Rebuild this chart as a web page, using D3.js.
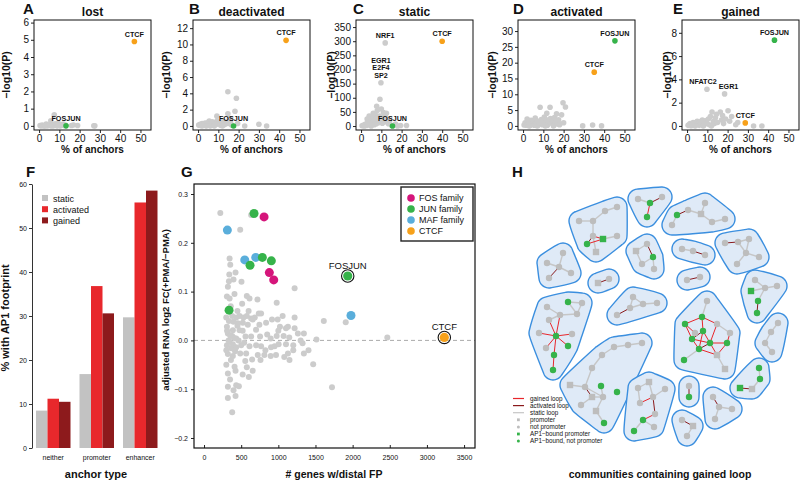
<!DOCTYPE html>
<html><head><meta charset="utf-8">
<script src="https://cdn.jsdelivr.net/npm/d3@7"></script>
<style>
body{margin:0;background:#fff}
svg{display:block}
text{font-family:"Liberation Sans",Arial,Helvetica,sans-serif;fill:#111}
</style>
</head><body><svg id="c" width="800" height="481"></svg>
<script>
// ================= DATA =================
// Top row (A-E): % of anchors vs -log10(P)
const topTitles = ["lost","deactivated","static","activated","gained"];
const topLetters = ["A","B","C","D","E"];
const topXTicks = [0,10,20,30,40,50];

const lostGray = [[0.5,0.02],[1,0],[1.5,0.05],[2,0.01],[2.5,0],[3,0.03],[3.5,0.1],[4,0],[4.5,0.04],[5,0.02],[5.5,0.08],[5.8,0.3],[6.5,0.05],[7,0],[7.5,0.64],[8,0.12],[8.5,0.02],[9,0.06],[9.5,0.15],[10,0.03],[10.5,0],[11,0.08],[11.5,0.05],[12,0.1],[12.5,0.02],[13,0.05],[16,0.02],[17,0.05],[19,0.02],[27,0.01],[27.5,0],[3,0],[6,0],[9,0]];
const lostHits = [[["CTCF"],47,4.9,"CTCF"],[["FOSJUN"],13.3,0,"FOSJUN"]];
const lostYTicks = [0,1,2,3,4,5,6];

const deactGray = [[0.3,0.1],[1,0.2],[1.5,0.05],[2,0.3],[2.5,0.1],[3,0.15],[3.5,0.35],[4,0.05],[4.5,0.2],[5,0.4],[5.5,0.6],[6,0.25],[6.5,0.1],[7,0.5],[7.5,0.3],[8,0.15],[8.5,0.45],[9,0.2],[9.3,1.2],[9.5,0.6],[10.5,0.35],[11,0.1],[11.5,0.4],[12,0.25],[12.5,0.6],[13,0.15],[13.5,0.5],[14.7,1.5],[14.5,0.3],[14.7,4.2],[15.5,0.9],[16,0.4],[18.2,1.8],[18.9,3.4],[19.5,0.3],[23,0],[30,0.2],[33.8,0],[2,0],[4,0],[6,0],[8,0],[12,0],[16.5,0.1]];
const deactHits = [[["CTCF"],43.4,10.5,"CTCF"],[["FOSJUN"],17.5,0,"FOSJUN"]];
const deactYTicks = [0,2,4,6,8,10,12];

const staticGray = [[0.5,1],[1,3],[1.5,0],[2,6],[2.5,2],[3,10],[3,25],[3.5,4],[4,14],[4,35],[4.5,7],[5,22],[5,0],[5.5,12],[6,30],[6,45],[6.5,5],[7,18],[7,40],[7.5,8],[7.7,70],[8,28],[8,55],[8.5,12],[9,35],[9.3,95],[9.5,20],[10,60],[10.5,10],[11,48],[11,30],[11.9,39],[12,15],[12.5,45],[13,25],[13.2,21],[13.5,8],[14,18],[15,3],[17,7],[18,0],[19.5,2],[22.4,2]];
const staticHits = [[["NRF1"],11.9,294,"other"],[["EGR1","E2F4","SP2"],9.8,153,"other"],[["CTCF"],40,300,"CTCF"],[["FOSJUN"],15.5,0,"FOSJUN"]];
const staticYTicks = [0,50,100,150,200,250,300,350];

const actGray = [[0.5,0.3],[1,1],[1.5,0.2],[2,2.2],[2.5,0.5],[3,1.2],[3.5,0.1],[4,1.8],[4.5,0.6],[5,1.4],[5.5,0.2],[6,2.5],[6.5,0.8],[7,1.5],[7.5,0.3],[8.4,5.9],[8.5,1.0],[9,2.0],[9.5,0.4],[10,1.3],[10.5,2.8],[11,0.7],[11.5,1.9],[11.7,4.0],[12,0.2],[12.5,1.1],[13.3,5.9],[13.5,2.3],[14,0.9],[14.5,1.6],[15,0.3],[15.5,2.6],[16,1.2],[16.5,3.8],[17,0.6],[17.5,1.9],[18,0.4],[19.7,7.3],[20.9,6.0],[19,3.5],[20,1.0],[29.4,0],[34.3,0.3],[38.7,0],[3,0],[7,0],[11,0],[15,0]];
const actHits = [[["FOSJUN"],45.3,26.9,"FOSJUN"],[["CTCF"],35.1,17.0,"CTCF"]];
const actYTicks = [0,5,10,15,20,25,30];

const gainGray = [[0.5,0.05],[1,0.1],[1.5,0.2],[2,0.02],[2.5,0.15],[3,0.3],[3.5,0.05],[4,0.25],[4.5,0.1],[5,0.4],[5.5,0.2],[6,0.05],[6.5,0.35],[7,0.15],[7.5,0.5],[8,0.2],[8.5,0.1],[9,0.45],[9.5,0.3],[10.5,0.6],[11,0.1],[11.5,0.8],[12.3,1.2],[13,0.4],[13.5,0.2],[14,0.7],[14.5,1.0],[15,0.3],[16.4,1.2],[17,0.5],[17.5,0.9],[18,0.2],[19,0.6],[20.2,1.3],[21,0.4],[22,0.8],[24,0.1],[25,0.3],[32.8,0],[36.9,0],[4,0],[8,0],[12,0]];
const gainHits = [[["FOSJUN"],43.1,7.37,"FOSJUN"],[["NFATC2"],9.8,3.15,"other"],[["EGR1"],18.5,2.75,"other"],[["CTCF"],28.7,0.26,"CTCF"]];
const gainYTicks = [0,2,4,6,8];

// Panel F: % with AP1 footprint by anchor type
const fCategories = ["neither","promoter","enhancer"];
const fSeries = ["static","activated","gained"];
const fStatic = [8.5,16.8,29.7];
const fActivated = [11.2,36.8,55.8];
const fGained = [10.5,30.6,58.5];
const fYTicks = [0,10,20,30,40,50,60];

// Panel G: # genes w/distal FP vs adjusted RNA log2 FC
const gXTicks = [0,500,1000,1500,2000,2500,3000,3500];
const gYTicks = [-0.2,-0.1,0.0,0.1,0.2,0.3];
const gLegend = ["FOS family","JUN family","MAF family","CTCF"];
const gFOS = [[808,0.253],[879,0.139],[938,0.124]];
const gJUN = [[673,0.260],[785,0.170],[906,0.163],[619,0.154],[337,0.062]];
const gMAF = [[314,0.226],[548,0.165],[696,0.170],[1978,0.051]];
const gHighlight = [["FOSJUN",1934,0.132,"JUN family"],["CTCF",3234,0.006,"CTCF"]];
const gGray = [
[219,0.261],[487,0.227],[634,0.257],
[344,0.168],[353,0.155],[424,0.139],[335,0.121],[397,0.125],[504,0.120],[321,0.110],[1219,0.107],
[308,0.090],[344,0.086],[576,0.091],[612,0.086],[719,0.084],[978,0.077],[513,0.075],
[379,0.050],[433,0.047],[478,0.050],[531,0.047],[576,0.050],[634,0.045],[683,0.047],[737,0.055],[768,0.055],
[299,0.047],[335,0.040],[397,0.038],[455,0.035],[522,0.036],[589,0.032],[656,0.043],[745,0.032],[835,0.036],[915,0.043],[991,0.043],[1058,0.050],[1129,0.028],[1219,0.047],[1022,0.028],[1103,0.025],[1219,0.025],[1612,0.040],
[1344,0.014],[1263,0.014],[1147,0.006],[1071,0.009],[978,0.009],[897,0.004],[754,0.008],[634,0.008],[558,0.008],[478,0.021],[388,0.021],[308,0.028],[321,0.014],[379,0.009],[433,0.004],
[344,-0.003],[388,-0.008],[308,-0.010],[366,-0.016],[433,-0.014],[500,-0.010],[612,-0.012],[701,-0.010],[768,-0.012],[826,-0.020],[902,-0.014],[1004,-0.008],[1103,-0.008],[1201,-0.010],[1326,-0.006],[1513,0.002],[1406,-0.020],[1344,-0.027],[1201,-0.020],[1129,-0.027],[1080,-0.034],[969,-0.030],[897,-0.032],[812,-0.030],[723,-0.030],[647,-0.039],[567,-0.027],[487,-0.027],[388,-0.032],[321,-0.028],
[411,-0.054],[576,-0.055],[321,-0.068],[424,-0.062],[603,-0.075],[1469,-0.049],[1722,-0.096],[321,-0.095],[433,-0.092],[469,-0.094],[397,-0.102],[321,-0.118],[424,-0.114],[379,-0.147],
[1907,0.037],[2467,0.006],
[330,0.000],[352,0.010],[362,-0.040],[300,-0.020],[405,0.005],[418,-0.022],[450,0.030],[465,0.000],[520,0.020],[540,-0.005],[555,-0.042],[600,0.060],[655,-0.062],[700,0.022],[760,-0.040],[850,0.012],[950,-0.012],[1000,0.020],[1150,-0.040],[1300,0.000],[360,0.070],[410,0.095],[450,0.060],[340,0.135],[310,0.020],[300,-0.050],[350,-0.080],[520,-0.070]
];

// Panel H: communities containing gained loop (layout units)
const hNodes = [
["a1",1,49,56,"n"],["a2",1,63,56,"n"],["a3",1,75,46,"n"],["a4",1,87,42,"n"],["a5",1,63,71,"n"],["a6",1,57,79,"an"],["a7",1,73,74,"ap"],["a8",1,87,71,"n"],["a9",1,66,87,"p"],
["b1",2,108,34,"n"],["b2",2,120,38,"an"],["b3",2,132,32,"n"],["b4",2,117,52,"an"],
["c1",3,147,50,"an"],["c2",3,158,45,"n"],["c3",3,171,49,"p"],["c4",3,175,38,"n"],["c5",3,182,57,"n"],["c6",3,195,54,"n"],["c7",3,142,60,"n"],
["d1",4,33,88,"n"],["d2",4,17,98,"n"],["d3",4,29,102,"n"],["d4",4,41,108,"n"],["d5",4,19,113,"n"],
["e1",5,106,86,"p"],["e2",5,117,79,"n"],["e3",5,123,92,"an"],["e4",5,112,99,"n"],["e5",5,124,104,"n"],
["f1",6,152,84,"n"],["f2",6,163,86,"n"],["f3",6,175,90,"n"],
["g1",7,195,78,"n"],["g2",7,208,77,"n"],["g3",7,219,74,"n"],["g4",7,216,88,"n"],["g5",7,229,92,"n"],["g6",7,207,99,"n"],
["h1",8,68,118,"p"],["h2",8,79,114,"n"],
["i1",9,157,115,"n"],["i2",9,170,112,"n"],
["j1",10,225,115,"n"],["j2",10,221,126,"ap"],["j3",10,235,123,"n"],["j4",10,247,121,"n"],["j5",10,228,136,"an"],["j6",10,227,148,"an"],
["k1",11,103,132,"n"],["k2",11,100,143,"n"],["k3",11,113,139,"n"],["k4",11,127,138,"n"],["k5",11,87,150,"n"],
["l1",12,38,137,"an"],["l2",12,52,138,"n"],["l3",12,17,142,"n"],["l4",12,47,149,"n"],["l5",12,30,150,"n"],["l6",12,19,155,"n"],["l7",12,9,168,"n"],["l8",12,26,171,"an"],["l9",12,42,169,"n"],["l10",12,16,183,"n"],["l11",12,38,181,"an"],["l12",12,24,190,"an"],["l13",12,23,205,"an"],
["m1",13,177,136,"n"],["m2",13,172,152,"an"],["m3",13,155,159,"an"],["m4",13,187,159,"n"],["m5",13,173,166,"an"],["m6",13,200,168,"n"],["m7",13,165,168,"n"],["m8",13,162,174,"an"],["m9",13,180,178,"an"],["m10",13,197,178,"an"],["m11",13,169,184,"an"],["m12",13,187,190,"p"],["m13",13,154,195,"an"],["m14",13,195,204,"p"],
["n1",14,248,158,"n"],["n2",14,241,167,"n"],["n3",14,235,178,"n"],["n4",14,242,187,"n"],
["o1",15,112,178,"n"],["o2",15,98,180,"n"],["o3",15,84,182,"n"],["o4",15,72,190,"n"],["o5",15,62,203,"n"],["o6",15,55,222,"n"],["o7",15,40,220,"p"],["o8",15,62,232,"p"],["o9",15,73,232,"n"],["o10",15,71,221,"an"],["o11",15,87,227,"an"],["o12",15,51,240,"n"],["o13",15,66,246,"p"],["o14",15,74,258,"an"],
["p1",16,108,223,"n"],["p2",16,119,217,"p"],["p3",16,135,224,"n"],["p4",16,123,232,"n"],["p5",16,110,238,"n"],["p6",16,125,249,"n"],["p7",16,113,255,"an"],["p8",16,124,262,"n"],["p9",16,104,266,"an"],
["q1",17,159,221,"n"],["q2",17,159,232,"an"],
["r1",18,183,232,"n"],["r2",18,189,242,"n"],["r3",18,202,244,"n"],["r4",18,185,254,"n"],
["s1",19,152,255,"n"],["s2",19,163,261,"p"],["s3",19,157,271,"n"],
["t1",20,229,203,"an"],["t2",20,230,214,"an"],["t3",20,210,223,"ap"],["t4",20,222,224,"p"]
];
const hEdges = [
["a1","a2","s"],["a2","a3","s"],["a3","a4","s"],["a2","a5","s"],["a5","a6","a"],["a6","a7","g"],["a5","a7","g"],["a7","a8","s"],["a5","a9","s"],
["b1","b2","s"],["b2","b3","a"],["b2","b4","g"],
["c1","c2","a"],["c2","c3","s"],["c3","c4","s"],["c3","c5","s"],["c5","c6","s"],["c1","c7","s"],
["d1","d3","s"],["d2","d3","s"],["d3","d4","s"],["d3","d5","a"],
["e1","e2","s"],["e2","e3","a"],["e1","e4","s"],["e4","e3","s"],["e3","e5","s"],
["f1","f2","s"],["f2","f3","a"],
["g1","g2","a"],["g2","g3","s"],["g2","g4","s"],["g3","g4","s"],["g4","g5","s"],["g4","g6","s"],
["h1","h2","a"],["i1","i2","a"],
["j1","j3","s"],["j2","j3","s"],["j3","j4","s"],["j3","j5","s"],["j5","j6","a"],
["k1","k2","s"],["k1","k3","s"],["k2","k3","s"],["k3","k4","s"],["k2","k5","a"],
["l1","l2","s"],["l3","l5","s"],["l5","l4","s"],["l4","l2","s"],["l1","l4","s"],["l5","l6","s"],["l6","l8","g"],["l8","l7","g"],["l8","l9","g"],["l8","l10","g"],["l8","l11","g"],["l8","l12","g"],["l12","l13","g"],["l5","l8","g"],
["m1","m2","s"],["m2","m3","g"],["m2","m4","g"],["m3","m7","g"],["m3","m8","g"],["m2","m5","g"],["m4","m6","s"],["m4","m9","g"],["m5","m9","g"],["m6","m10","g"],["m9","m10","g"],["m8","m9","g"],["m8","m11","g"],["m11","m9","a"],["m5","m11","g"],["m9","m12","g"],["m10","m12","g"],["m11","m12","g"],["m11","m13","s"],["m12","m14","s"],["m7","m8","s"],["m5","m8","a"],
["n1","n2","s"],["n2","n3","s"],["n3","n4","s"],
["o1","o2","s"],["o2","o3","s"],["o3","o4","s"],["o4","o5","s"],["o5","o6","s"],["o6","o7","s"],["o6","o8","a"],["o6","o9","s"],["o8","o9","s"],["o9","o10","s"],["o9","o13","s"],["o8","o12","s"],["o13","o14","s"],
["p1","p2","s"],["p2","p4","s"],["p3","p4","s"],["p1","p5","s"],["p5","p4","g"],["p4","p6","a"],["p7","p6","g"],["p7","p8","s"],["p7","p9","s"],
["q1","q2","a"],
["r1","r2","a"],["r2","r3","s"],["r2","r4","s"],
["s1","s2","a"],["s2","s3","s"],
["t1","t2","s"],["t2","t4","s"],["t3","t4","a"]
];
const hLegendLabels = ["gained loop","activated loop","static loop","promoter","not promoter","AP1\u2212bound promoter","AP1\u2212bound, not promoter"];
const hLegendKinds = ["g","a","s","p","n","ap","an"];
const hTitle = "communities containing gained loop";

// ================= DRAWING =================
const svg = d3.select("#c");
const C = {orange:"#f7a11a", green:"#36b34a", gray:"#cccccc", fos:"#d5157b", maf:"#5aaedb",
  static:"#c2c2c2", activated:"#e8282c", gained:"#8d1a1c"};
const hitColor = g => g==="CTCF" ? C.orange : g==="FOSJUN" ? C.green : C.gray;
const intFmt = d3.format("d");

// ---- top row
const topData = [
  {gray:lostGray, hits:lostHits, yTicks:lostYTicks, yDom:[-0.24,6.15]},
  {gray:deactGray, hits:deactHits, yTicks:deactYTicks, yDom:[-0.5,13]},
  {gray:staticGray, hits:staticHits, yTicks:staticYTicks, yDom:[-14,375]},
  {gray:actGray, hits:actHits, yTicks:actYTicks, yDom:[-1.3,33.5]},
  {gray:gainGray, hits:gainHits, yTicks:gainYTicks, yDom:[-0.35,9.1]}
];
const topLayout = [
  {left:34, ylab:6, letter:23, shift:{}},
  {left:193, ylab:166, letter:189, shift:{}},
  {left:356, ylab:331, letter:353, shift:{}},
  {left:518, ylab:492, letter:513, shift:{}},
  {left:682, ylab:667, letter:673, shift:{NFATC2:-4, EGR1:4}}
];
const boxW = 117, tTop = 20, tBot = 130;

topData.forEach((d,i) => {
  const L = topLayout[i];
  const x = d3.scaleLinear().domain([-2.5,55.2]).range([L.left, L.left+boxW]);
  const y = d3.scaleLinear().domain(d.yDom).range([tBot, tTop]);
  const g = svg.append("g");
  const ax = g.append("g").attr("transform",`translate(0,${tBot})`)
    .call(d3.axisBottom(x).tickValues(topXTicks).tickFormat(intFmt).tickSize(3).tickPadding(1.5).tickSizeOuter(0));
  const ay = g.append("g").attr("transform",`translate(${L.left},0)`)
    .call(d3.axisLeft(y).tickValues(d.yTicks).tickFormat(intFmt).tickSize(3).tickPadding(2).tickSizeOuter(0));
  [ax,ay].forEach(a => {
    a.select(".domain").remove();
    a.selectAll("text").attr("font-size",10).attr("fill","#222");
    a.selectAll("line").attr("stroke","#222");
  });
  g.append("g").selectAll("circle").data(d.gray).join("circle")
    .attr("cx",p=>x(p[0])).attr("cy",p=>y(p[1])).attr("r",2.8).attr("fill",C.gray);
  g.append("g").selectAll("circle").data(d.hits).join("circle")
    .attr("cx",p=>x(p[1])).attr("cy",p=>y(p[2])).attr("r",2.8).attr("fill",p=>hitColor(p[3]));
  d.hits.forEach(h => {
    const n = h[0].length;
    h[0].forEach((t,k) => {
      g.append("text").attr("x",x(h[1]) + (L.shift[t]||0)).attr("y",y(h[2]) - 5 - (n-1-k)*7.5)
        .attr("text-anchor","middle").attr("font-size",7.2).attr("font-weight","bold").text(t);
    });
  });
  g.append("rect").attr("x",L.left).attr("y",tTop).attr("width",boxW).attr("height",tBot-tTop)
    .attr("fill","none").attr("stroke","#111").attr("stroke-width",1);
  g.append("text").attr("x",L.left+boxW/2).attr("y",16).attr("text-anchor","middle")
    .attr("font-size",12).attr("font-weight","bold").text(topTitles[i]);
  g.append("text").attr("x",L.letter).attr("y",14).attr("font-size",15).attr("font-weight","bold").text(topLetters[i]);
  g.append("text").attr("transform",`translate(${L.ylab},75) rotate(-90)`).attr("dy","0.35em")
    .attr("text-anchor","middle").attr("font-size",10.5).attr("font-weight","bold").text("\u2212log10(P)");
  g.append("text").attr("x",L.left+boxW/2).attr("y",153).attr("text-anchor","middle")
    .attr("font-size",10).attr("font-weight","bold").text("% of anchors");
});

// ---- panel F
{
  const fValues = {static:fStatic, activated:fActivated, gained:fGained};
  const y = d3.scaleLinear().domain([0,60]).range([448,184]);
  const x0 = d3.scaleBand().domain(fCategories).range([36,157.5]).paddingInner(0.207);
  const x1 = d3.scaleBand().domain(fSeries).range([0,x0.bandwidth()]);
  const g = svg.append("g");
  fCategories.forEach((c,i) => {
    g.append("g").selectAll("rect").data(fSeries).join("rect")
      .attr("x",s=>x0(c)+x1(s)).attr("width",x1.bandwidth())
      .attr("y",s=>y(fValues[s][i])).attr("height",s=>y(0)-y(fValues[s][i]))
      .attr("fill",s=>C[s]);
  });
  const ay = g.append("g").attr("transform","translate(32,0)")
    .call(d3.axisLeft(y).tickValues(fYTicks).tickFormat(intFmt).tickSize(3).tickPadding(2).tickSizeOuter(0));
  ay.selectAll("text").attr("font-size",7).attr("fill","#333");
  ay.selectAll("line,path").attr("stroke","#333");
  g.selectAll(".flab").data(fCategories).join("text")
    .attr("x",c=>x0(c)+x0.bandwidth()/2).attr("y",460).attr("text-anchor","middle")
    .attr("font-size",7).attr("fill","#333").text(c=>c);
  g.append("text").attr("x",96).attr("y",478).attr("text-anchor","middle")
    .attr("font-size",11).attr("font-weight","bold").text("anchor type");
  g.append("text").attr("transform","translate(5,318) rotate(-90)").attr("dy","0.35em")
    .attr("text-anchor","middle").attr("font-size",11).attr("font-weight","bold").text("% with AP1 footprint");
  fSeries.forEach((s,k) => {
    g.append("rect").attr("x",42).attr("y",195+k*11.2).attr("width",6).attr("height",6).attr("fill",C[s]);
    g.append("text").attr("x",53).attr("y",201.5+k*11.2).attr("font-size",9).attr("fill","#333").text(s);
  });
  g.append("text").attr("x",26).attr("y",177).attr("font-size",15).attr("font-weight","bold").text("F");
}

// ---- panel G
{
  const L=194, R=475, T=184, B=448;
  const x = d3.scaleLinear().domain([-135,3647]).range([L,R]);
  const y = d3.scaleLinear().domain([-0.2205,0.3205]).range([B,T]);
  const g = svg.append("g");
  const famColor = {"FOS family":C.fos,"JUN family":C.green,"MAF family":C.maf,"CTCF":C.orange};
  g.append("line").attr("x1",L).attr("x2",R).attr("y1",y(0)).attr("y2",y(0))
    .attr("stroke","#aaa").attr("stroke-dasharray","4,3").attr("stroke-width",1);
  g.append("g").selectAll("circle").data(gGray).join("circle")
    .attr("cx",p=>x(p[0])).attr("cy",p=>y(p[1])).attr("r",3).attr("fill",C.gray);
  [[gMAF,"MAF family"],[gJUN,"JUN family"],[gFOS,"FOS family"]].forEach(([arr,f]) => {
    g.append("g").selectAll("circle").data(arr).join("circle")
      .attr("cx",p=>x(p[0])).attr("cy",p=>y(p[1])).attr("r",4.5).attr("fill",famColor[f]);
  });
  gHighlight.forEach(h => {
    g.append("circle").attr("cx",x(h[1])).attr("cy",y(h[2])).attr("r",6.2)
      .attr("fill","none").attr("stroke","#111").attr("stroke-width",1.1);
    g.append("circle").attr("cx",x(h[1])).attr("cy",y(h[2])).attr("r",4.6).attr("fill",famColor[h[3]]);
    g.append("text").attr("x",x(h[1])).attr("y",y(h[2])-7).attr("text-anchor","middle")
      .attr("font-size",9.5).attr("fill","#222").text(h[0]);
  });
  const ay = g.append("g").attr("transform",`translate(${L},0)`)
    .call(d3.axisLeft(y).tickValues(gYTicks).tickSize(3).tickPadding(3).tickSizeOuter(0));
  const ax = g.append("g").attr("transform",`translate(0,${B})`)
    .call(d3.axisBottom(x).tickValues(gXTicks).tickFormat(intFmt).tickSize(-3).tickPadding(7).tickSizeOuter(0));
  [ax,ay].forEach(a => {
    a.select(".domain").remove();
    a.selectAll("text").attr("font-size",7).attr("fill","#333");
    a.selectAll("line").attr("stroke","#222");
  });
  ay.selectAll("text").text(d => d3.format(".1f")(d).replace("-","\u2212"));
  g.append("rect").attr("x",L).attr("y",T).attr("width",R-L).attr("height",B-T)
    .attr("fill","none").attr("stroke","#111").attr("stroke-width",1.2);
  g.append("rect").attr("x",401).attr("y",187).attr("width",72).attr("height",54)
    .attr("fill","#fff").attr("stroke","#222").attr("stroke-width",1.4);
  gLegend.forEach((f,k) => {
    g.append("circle").attr("cx",411).attr("cy",198+k*11).attr("r",3.8).attr("fill",famColor[f]);
    g.append("text").attr("x",419).attr("y",201.3+k*11).attr("font-size",9).attr("fill","#222").text(f);
  });
  g.append("text").attr("x",334).attr("y",478).attr("text-anchor","middle")
    .attr("font-size",10.5).attr("font-weight","bold").text("# genes w/distal FP");
  g.append("text").attr("transform","translate(166,310) rotate(-90)").attr("dy","0.35em")
    .attr("text-anchor","middle").attr("font-size",9.5).attr("font-weight","bold").text("adjusted RNA log2 FC(+PMA/\u2212PMA)");
  g.append("text").attr("x",181).attr("y",177).attr("font-size",15).attr("font-weight","bold").text("G");
}

// ---- panel H
{
  const hx = d3.scaleLinear().domain([0,270]).range([530,800]);
  const hy = d3.scaleLinear().domain([0,300]).range([165,465]);
  const g = svg.append("g");
  const byId = new Map(hNodes.map(n => [n[0], n]));
  const comms = d3.group(hNodes, n => n[1]);
  const Rpad = 10;
  const line = d3.line().curve(d3.curveCatmullRomClosed.alpha(0.5));
  comms.forEach(nodes => {
    const pts = [];
    nodes.forEach(n => {
      for (let k=0;k<24;k++){
        const a = 2*Math.PI*k/24;
        pts.push([hx(n[2])+Rpad*Math.cos(a), hy(n[3])+Rpad*Math.sin(a)]);
      }
    });
    const hull = d3.polygonHull(pts);
    g.append("path").attr("d",line(hull)).attr("fill","#dfeaf7")
      .attr("stroke","#3b8fdf").attr("stroke-width",1.4);
  });
  const eStyle = {s:{c:"#c6c6c6",w:1.4}, g:{c:"#e8262b",w:1.0}, a:{c:"#8a1a1c",w:1.0}};
  const order = {s:0,g:1,a:2};
  g.append("g").selectAll("line").data(hEdges.slice().sort((a,b)=>order[a[2]]-order[b[2]])).join("line")
    .attr("x1",e=>hx(byId.get(e[0])[2])).attr("y1",e=>hy(byId.get(e[0])[3]))
    .attr("x2",e=>hx(byId.get(e[1])[2])).attr("y2",e=>hy(byId.get(e[1])[3]))
    .attr("stroke",e=>eStyle[e[2]].c).attr("stroke-width",e=>eStyle[e[2]].w);
  const nodeFill = t => (t==="ap"||t==="an") ? C.green : "#bdbdbd";
  const isSq = t => t==="p"||t==="ap";
  g.append("g").selectAll("circle").data(hNodes.filter(n=>!isSq(n[4]))).join("circle")
    .attr("cx",n=>hx(n[2])).attr("cy",n=>hy(n[3])).attr("r",3.2).attr("fill",n=>nodeFill(n[4]));
  g.append("g").selectAll("rect").data(hNodes.filter(n=>isSq(n[4]))).join("rect")
    .attr("x",n=>hx(n[2])-3.2).attr("y",n=>hy(n[3])-3.2).attr("width",6.4).attr("height",6.4)
    .attr("fill",n=>nodeFill(n[4]));
  hLegendKinds.forEach((k,i) => {
    const yy = 398.5 + i*7.1;
    if (k==="g"||k==="a"||k==="s") {
      g.append("line").attr("x1",513).attr("x2",524).attr("y1",yy).attr("y2",yy)
        .attr("stroke",eStyle[k].c).attr("stroke-width",1.2);
    } else if (isSq(k)) {
      g.append("rect").attr("x",517).attr("y",yy-1.4).attr("width",2.8).attr("height",2.8).attr("fill",nodeFill(k));
    } else {
      g.append("circle").attr("cx",518.4).attr("cy",yy).attr("r",1.5).attr("fill",nodeFill(k));
    }
    g.append("text").attr("x",530).attr("y",yy+2.2).attr("font-size",6.3).attr("fill","#333").text(hLegendLabels[i]);
  });
  g.append("text").attr("x",660).attr("y",478).attr("text-anchor","middle")
    .attr("font-size",10.5).attr("font-weight","bold").text(hTitle);
  g.append("text").attr("x",512).attr("y",177).attr("font-size",15).attr("font-weight","bold").text("H");
}
</script></body></html>
